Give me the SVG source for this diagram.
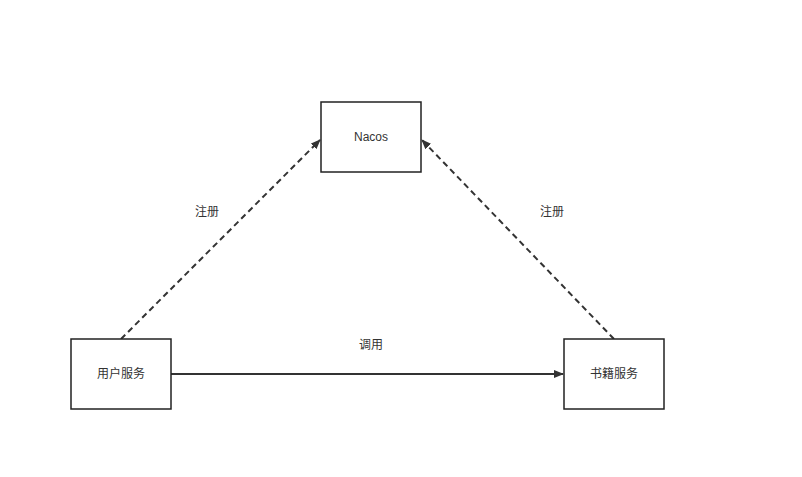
<svg xmlns="http://www.w3.org/2000/svg" width="802" height="477" viewBox="0 0 802 477">
<style>
.box{fill:#fff;stroke:#222;stroke-width:1.5}
.t{font-family:"Liberation Sans","Noto Sans CJK SC",sans-serif;font-size:12px;fill:#333;text-anchor:middle;dominant-baseline:central}
.c{stroke:#333;stroke-width:2;fill:none}
</style>
<defs><marker id="a" markerWidth="10" markerHeight="8" refX="9" refY="4" orient="auto" markerUnits="userSpaceOnUse"><path d="M0,0 L10,4 L0,8 Z" fill="#333"/></marker></defs>
<rect width="802" height="477" fill="#fff"/>
<g id="connectors">
<path class="c" d="M121,339 L320,140" stroke-dasharray="6,4" marker-end="url(#a)"/>
<path class="c" d="M614,339 L422,140" stroke-dasharray="6,4" marker-end="url(#a)"/>
<path class="c" d="M171,374 L563,374" marker-end="url(#a)"/>
<text class="t" x="207" y="212">注册</text>
<text class="t" x="552" y="212">注册</text>
<text class="t" x="371" y="345">调用</text>
</g>
<g id="nacos"><rect class="box" x="321" y="102" width="100" height="70"/><text class="t" x="371" y="137">Nacos</text></g>
<g id="user"><rect class="box" x="71" y="339" width="100" height="70"/><text class="t" x="121" y="374">用户服务</text></g>
<g id="book"><rect class="box" x="564" y="339" width="100" height="70"/><text class="t" x="614" y="374">书籍服务</text></g>
</svg>
